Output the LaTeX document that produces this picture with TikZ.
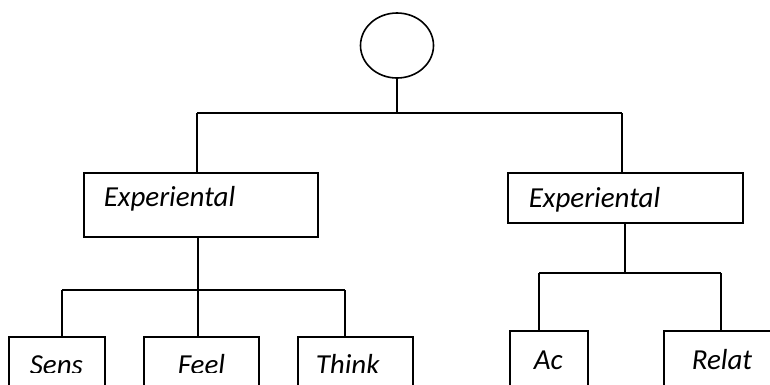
\documentclass[tikz,border=0pt]{standalone}
\usepackage{fontspec}
\setmainfont{Carlito}
\usetikzlibrary{shapes.geometric}
\begin{document}
\begin{tikzpicture}[x=1pt,y=-1pt, line width=1.6pt,
  box/.style={draw, rectangle, inner sep=0pt, anchor=north west},
  lbl/.style={anchor=base west, inner sep=0pt, font=\fontsize{29}{33}\selectfont\itshape}]
\useasboundingbox (0,0) rectangle (770,384);
\clip (0,0) rectangle (770,384);
% root
\node[draw, ellipse, inner sep=0pt, minimum width=73, minimum height=65] (root) at (397,45.5) {};
\coordinate (tl) at (197,113);
\coordinate (tr) at (622,113);
% level 1 boxes
\node[box, minimum width=234, minimum height=64] (L) at (83,172) {};
\node[box, minimum width=235, minimum height=50] (R) at (507,172) {};
\node[lbl] (Lt) at (103,206) {Experiental};
\node[lbl] (Rt) at (528,207) {Experiental};
% level 2 boxes left
\node[box, minimum width=96, minimum height=60] (S) at (8,336) {};
\node[box, minimum width=115, minimum height=60] (F) at (143,336) {};
\node[box, minimum width=115, minimum height=60] (T) at (297,336) {};
\begin{scope}
\clip (0,0) rectangle (770,372);
\node[lbl] (St) at (29,374) {Sens};
\node[lbl] (Ft) at (177,374) {Feel};
\node[lbl] (Tt) at (315,374) {Think};
\end{scope}
% level 2 boxes right
\node[box, minimum width=78, minimum height=60] (A) at (509,330) {};
\node[box, minimum width=120, minimum height=60] (Re) at (663,330) {};
\node[lbl] (At) at (533,369) {Ac};
\node[lbl] (Ret) at (691,369) {Relat};
% connectors top
\draw (root.south) -- (root.south |- tl);
\draw (tl) -- (tr);
\draw (tl) -- (tl |- L.north);
\draw (tr) -- (tr |- R.north);
% connectors left subtree
\coordinate (lb) at (62,290);
\coordinate (lm) at (198,290);
\coordinate (rb) at (345,290);
\draw (L.south -| lm) -- (lm);
\draw (lb) -- (rb);
\draw (lb) -- (lb |- S.north);
\draw (lm) -- (lm |- F.north);
\draw (rb) -- (rb |- T.north);
% connectors right subtree
\coordinate (ra) at (539,273);
\coordinate (rm) at (625,273);
\coordinate (rr) at (721,273);
\draw (R.south -| rm) -- (rm);
\draw (ra) -- (rr);
\draw (ra) -- (ra |- A.north);
\draw (rr) -- (rr |- Re.north);
\end{tikzpicture}
\end{document}
